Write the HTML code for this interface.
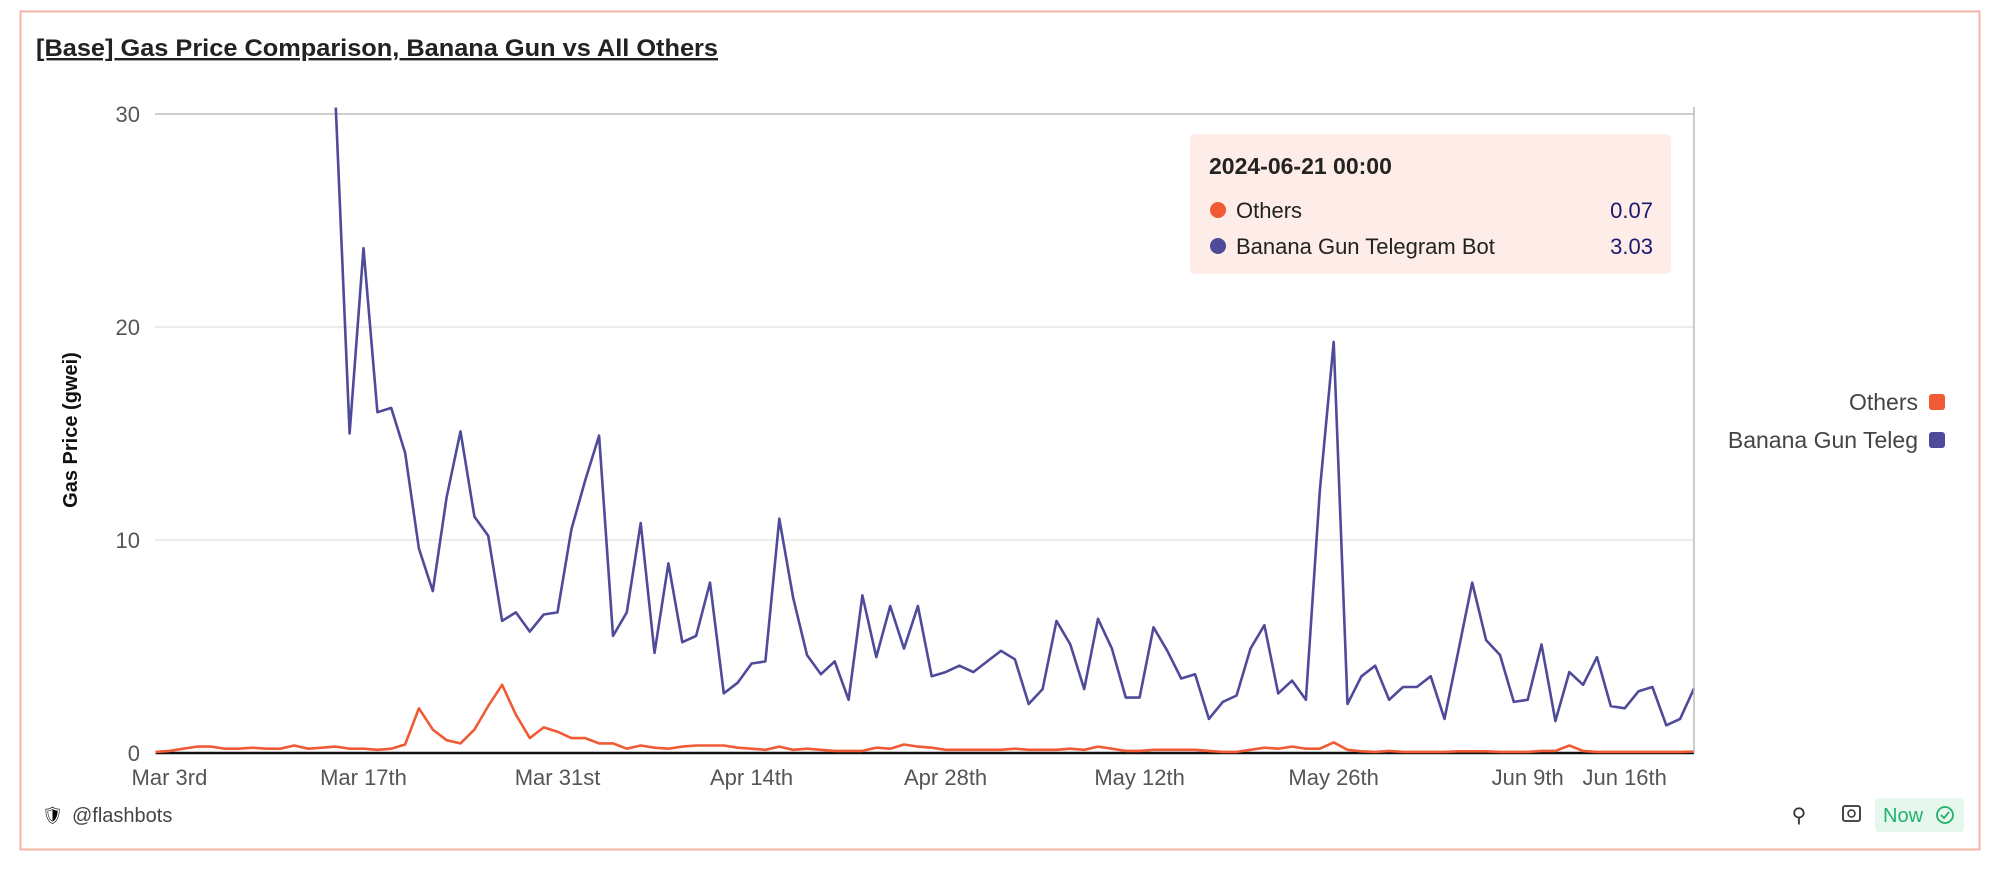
<!DOCTYPE html>
<html><head><meta charset="utf-8"><style>
html,body{margin:0;padding:0;background:#fff;}
svg{display:block;font-family:"Liberation Sans",sans-serif;}
</style></head><body>
<svg id="chart" width="2000" height="878" viewBox="0 0 2000 878">
<rect x="20.5" y="11.5" width="1959" height="838" fill="#fff" stroke="#f4b3a3" stroke-width="2"/>
<text x="36" y="56" font-size="24" font-weight="bold" fill="#222" textLength="682" lengthAdjust="spacingAndGlyphs" text-decoration="underline">[Base] Gas Price Comparison, Banana Gun vs All Others</text>
<g id="grid"></g>
<g id="yticks"></g>
<g id="xticks"></g>
<text transform="translate(77,430) rotate(-90)" text-anchor="middle" font-size="20" font-weight="bold" fill="#111">Gas Price (gwei)</text>
<g id="series"></g>
<line x1="1694" y1="107" x2="1694" y2="753" stroke="#bbb" stroke-width="1.5"/>
<g>
<rect x="1190" y="134" width="481" height="140" rx="6" fill="#fdece7"/>
<text x="1209" y="174" font-size="23" font-weight="bold" fill="#222">2024-06-21 00:00</text>
<circle cx="1218" cy="210" r="8" fill="#f05a35"/>
<text x="1236" y="218" font-size="22" fill="#222">Others</text>
<text x="1653" y="218" font-size="22" fill="#1a1a6e" text-anchor="end">0.07</text>
<circle cx="1218" cy="246" r="8" fill="#4f4a99"/>
<text x="1236" y="254" font-size="22" fill="#222">Banana Gun Telegram Bot</text>
<text x="1653" y="254" font-size="22" fill="#1a1a6e" text-anchor="end">3.03</text>
</g>
<g>
<text x="1918" y="410" font-size="23" fill="#444" text-anchor="end">Others</text>
<rect x="1929" y="394" width="16" height="16" rx="3" fill="#f05a35"/>
<text x="1918" y="448" font-size="23" fill="#444" text-anchor="end">Banana Gun Teleg</text>
<rect x="1929" y="432" width="16" height="16" rx="3" fill="#4f4a99"/>
</g>
<g>
<text x="42" y="821" font-size="17">🛡</text>
<text x="72" y="822" font-size="20" fill="#444">@flashbots</text>
<text x="1799" y="822" font-size="20" fill="#333" text-anchor="middle">⚲</text>
<rect x="1843" y="806" width="17" height="15" rx="2" fill="none" stroke="#333" stroke-width="1.8"/>
<circle cx="1851.5" cy="813.5" r="3.5" fill="none" stroke="#333" stroke-width="1.5"/>
<rect x="1875" y="798" width="89" height="34" rx="4" fill="#e6f8ee"/>
<text x="1883" y="822" font-size="20" fill="#22b06a">Now</text>
<circle cx="1945" cy="815" r="8" fill="none" stroke="#22b06a" stroke-width="1.8"/>
<path d="M1941 815 l3 3 l5 -6" fill="none" stroke="#22b06a" stroke-width="1.8"/>
</g>
</svg>
<script>
const yTicks = [0, 10, 20, 30];
const xTickLabels = ["Mar 3rd","Mar 17th","Mar 31st","Apr 14th","Apr 28th","May 12th","May 26th","Jun 9th","Jun 16th"];
const xTickDays = [1, 15, 29, 43, 57, 71, 85, 99, 106];
const othersValues = [
0.05,0.1,0.2,0.3,0.3,0.2,0.2,0.25,0.2,0.2,
0.35,0.2,0.25,0.3,0.2,0.2,0.15,0.2,0.4,2.1,
1.1,0.6,0.45,1.1,2.2,3.2,1.8,0.7,1.2,1.0,
0.7,0.7,0.45,0.45,0.2,0.35,0.25,0.2,0.3,0.35,
0.35,0.35,0.25,0.2,0.15,0.3,0.15,0.2,0.15,0.1,
0.1,0.1,0.25,0.2,0.4,0.3,0.25,0.15,0.15,0.15,
0.15,0.15,0.2,0.15,0.15,0.15,0.2,0.15,0.3,0.2,
0.1,0.1,0.15,0.15,0.15,0.15,0.1,0.05,0.05,0.15,
0.25,0.2,0.3,0.2,0.2,0.5,0.15,0.08,0.05,0.1,
0.05,0.05,0.05,0.05,0.08,0.08,0.08,0.05,0.05,0.05,
0.1,0.1,0.35,0.1,0.05,0.05,0.05,0.05,0.05,0.05,
0.05,0.07];
const bananaStart = 13;
const bananaValues = [
30.3,15.0,23.7,16.0,16.2,14.1,9.6,7.6,12.0,15.1,
11.1,10.2,6.2,6.6,5.7,6.5,6.6,10.5,12.8,14.9,
5.5,6.6,10.8,4.7,8.9,5.2,5.5,8.0,2.8,3.3,
4.2,4.3,11.0,7.3,4.6,3.7,4.3,2.5,7.4,4.5,
6.9,4.9,6.9,3.6,3.8,4.1,3.8,4.3,4.8,4.4,
2.3,3.0,6.2,5.1,3.0,6.3,4.9,2.6,2.6,5.9,
4.8,3.5,3.7,1.6,2.4,2.7,4.9,6.0,2.8,3.4,
2.5,12.3,19.3,2.3,3.6,4.1,2.5,3.1,3.1,3.6,
1.6,4.8,8.0,5.3,4.6,2.4,2.5,5.1,1.5,3.8,
3.2,4.5,2.2,2.1,2.9,3.1,1.3,1.6,3.03];

const X0 = 155.6, X1 = 1694, Y0 = 753, YPER = 21.3;
const nDays = othersValues.length;
function xPos(i){ return X0 + i * (X1 - X0) / (nDays - 1); }
function yPos(v){ return Y0 - v * YPER; }
const NS = "http://www.w3.org/2000/svg";
function mk(tag, attrs, parent){ const e = document.createElementNS(NS, tag); for (const k in attrs) e.setAttribute(k, attrs[k]); parent.appendChild(e); return e; }

const grid = document.getElementById('grid');
const yt = document.getElementById('yticks');
yTicks.forEach(v => {
  if (v > 0) {
    const l = mk('line', {x1: 155, x2: X1, y1: yPos(v), y2: yPos(v), stroke: v === 30 ? '#cfcfcf' : '#ececec', 'stroke-width': 2}, grid);
    
    
  }
  const t = mk('text', {x: 140, y: yPos(v) + 8, 'font-size': 22, fill: '#555', 'text-anchor': 'end'}, yt);
  t.textContent = v;
  
  
});
const xt = document.getElementById('xticks');
xTickLabels.forEach((lab, k) => {
  const t = mk('text', {x: xPos(xTickDays[k]), y: 785, 'font-size': 22, fill: '#555', 'text-anchor': 'middle'}, xt);
  t.textContent = lab;
  
  
});
const axis = mk('line', {x1: X0, x2: X1, y1: Y0, y2: Y0, stroke: '#111', 'stroke-width': 2.5}, xt);



const ser = document.getElementById('series');
const op = othersValues.map((v, i) => xPos(i).toFixed(1) + ',' + yPos(v).toFixed(1)).join(' ');
const ol = mk('polyline', {points: op, fill: 'none', stroke: '#f05a35', 'stroke-width': 2.6, 'stroke-linejoin': 'round'}, ser);


const bp = bananaValues.map((v, i) => xPos(i + bananaStart).toFixed(1) + ',' + yPos(v).toFixed(1)).join(' ');
const bl = mk('polyline', {points: bp, fill: 'none', stroke: '#4f4a99', 'stroke-width': 2.6, 'stroke-linejoin': 'round'}, ser);


</script>
</body></html>
